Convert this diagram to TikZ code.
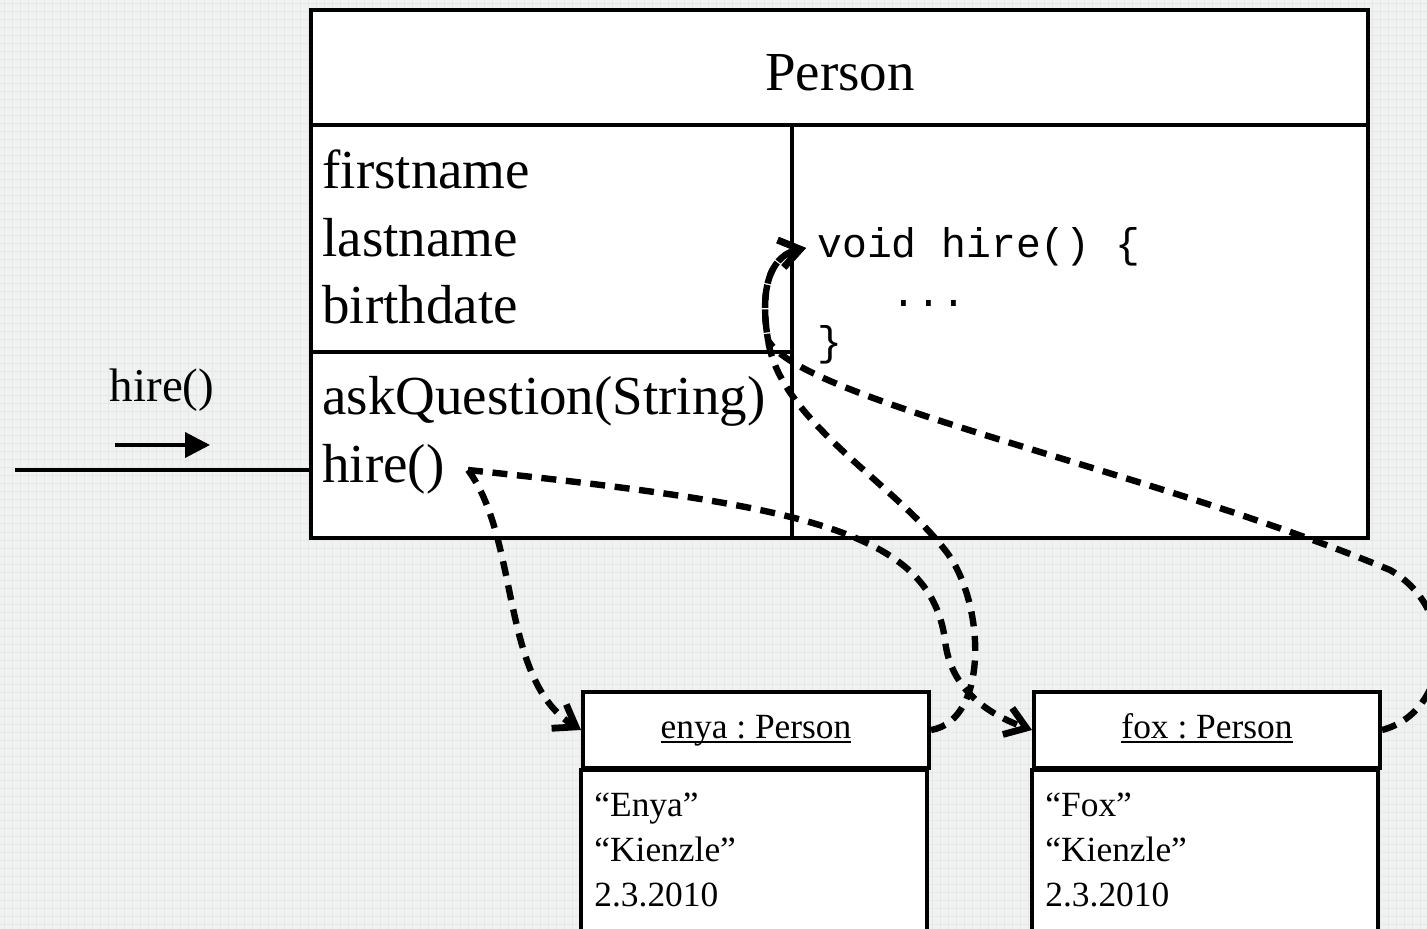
\documentclass[tikz,border=0pt]{standalone}
\usepackage{fontspec}
\setmainfont{Liberation Serif}
\setmonofont{Liberation Mono}
\usetikzlibrary{arrows.meta, calc, positioning}

\definecolor{paper}{RGB}{240,241,241}
\definecolor{paperline}{RGB}{230,232,232}

% underlined object name, rule just below the baseline
\newcommand{\objname}[1]{\setbox0\hbox{#1}\rlap{\rule[-2.4pt]{\wd0}{0.8pt}}\box0}

\begin{document}
\frenchspacing
\begin{tikzpicture}[
    x=0.5pt, y=-0.5pt,
    boxline/.style={line width=2pt},
    gridln/.style={paperline, line width=0.5pt},
    objhead/.style={draw, fill=white, line width=2pt, minimum width=173pt,
        minimum height=38pt, inner sep=0pt, text height=12pt, text depth=4pt,
        font=\fontsize{17.7}{22.5}\selectfont},
    bigtxt/.style={inner sep=0pt, font=\fontsize{27.5}{33.75}\selectfont},
    smalltxt/.style={inner sep=0pt, font=\fontsize{17.7}{22.5}\selectfont},
    codetxt/.style={inner sep=0pt, font=\ttfamily\fontsize{20.7}{25}\selectfont},
    msgtxt/.style={inner sep=0pt, font=\fontsize{23.5}{28}\selectfont},
    call/.style={line width=3.2pt, dash pattern=on 7.5pt off 4.8pt,
        -{Straight Barb[length=10pt,width=14pt,line width=3.4pt]}},
]

% =============================================================================
% Paper
% =============================================================================
\useasboundingbox (0,0) rectangle (1427,929);
\fill[paper] (0,0) rectangle (1427,929);
\foreach \gx in {4,12,...,1427} \draw[gridln] (\gx,0) -- (\gx,929);
\foreach \gy in {4,12,...,929} \draw[gridln] (0,\gy) -- (1427,\gy);
\clip (0,0) rectangle (1427,929);

% =============================================================================
% Class Person
% =============================================================================
\coordinate (clsNW) at (311,10);
\coordinate (clsSE) at (1368,538);
\draw[boxline, fill=white] (clsNW) rectangle (clsSE);
\draw[boxline] (311,125) -- (1368,125);
\draw[boxline] (792,125) -- (792,538);
\draw[boxline] (311,352) -- (792,352);

\node[bigtxt, anchor=base] (title) at (840,91) {Person};

% Attributes
\node[bigtxt, anchor=base west] (attr1) at (322,189) {firstname};
\node[bigtxt, anchor=base west] (attr2) at (322,257) {lastname};
\node[bigtxt, anchor=base west] (attr3) at (322,324) {birthdate};

% Methods
\node[bigtxt, anchor=base west] (askM) at (322,415) {askQuestion(String)};
\node[bigtxt, anchor=base west] (hireM) at (322,483) {hire()};

% Method body
\node[codetxt, anchor=base west] (code1) at (817,258) {void hire() \{};
\node[codetxt, anchor=base west] (code2) at (817,307) {\phantom{xxx}...};
\node[codetxt, anchor=base west] (code3) at (817,356) {\}};

% =============================================================================
% Incoming message
% =============================================================================
\coordinate (inL) at (15,470);
\coordinate (inR) at (311,470);
\draw[boxline] (inL) -- (inR);

\coordinate (a0) at (115,445);
\coordinate (a1) at (210,445);
\draw[boxline, -{Triangle[length=12.5pt,width=12.5pt]}] (a0) -- (a1);
\node[msgtxt, anchor=base] (msg) at (162,402) {hire()};

% =============================================================================
% Objects
% =============================================================================
\node[objhead] (enya) at (756,730) {\objname{enya : Person}};
\draw[boxline, fill=white] (enya.south west) rectangle ++(346,200);
\node[smalltxt, anchor=base west] (e1) at (594,816) {“Enya”};
\node[smalltxt, anchor=base west] (e2) at (594,861) {“Kienzle”};
\node[smalltxt, anchor=base west] (e3) at (594,906) {2.3.2010};

\node[objhead] (fox) at (1207,730) {\objname{fox : Person}};
\draw[boxline, fill=white] (fox.south west) rectangle ++(346,200);
\node[smalltxt, anchor=base west] (f1) at (1045,816) {“Fox”};
\node[smalltxt, anchor=base west] (f2) at (1045,861) {“Kienzle”};
\node[smalltxt, anchor=base west] (f3) at (1045,906) {2.3.2010};

% =============================================================================
% Dispatch of hire()
% =============================================================================
\coordinate (callpt) at (468,470);
\coordinate (bodyin) at (806,248);

% hire() -> enya, hire() -> fox
\draw[call] (callpt) .. controls (520,540) and (500,680) .. (enya.west);
\draw[call] (callpt) .. controls (800,505) and (930,530) .. (945,640)
    .. controls (950,690) and (990,715) .. (fox.west);

% enya, fox -> method body
\draw[call] (enya.east) .. controls (990,720) and (985,600) .. (945,550)
    .. controls (890,480) and (780,420) .. (768,340)
    .. controls (758,280) and (775,255) .. (bodyin);
\draw[call] (fox.east) .. controls (1450,712) and (1460,610) .. (1390,570)
    .. controls (1150,470) and (800,400) .. (768,340)
    .. controls (758,280) and (775,255) .. (bodyin);

\end{tikzpicture}
\end{document}
